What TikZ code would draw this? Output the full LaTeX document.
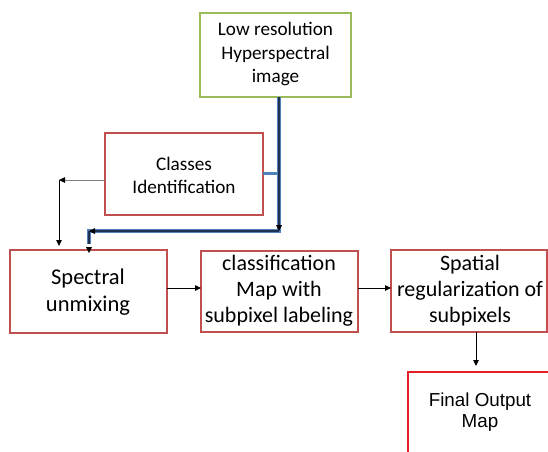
\documentclass[tikz,border=0pt]{standalone}
\usepackage{fontspec}
\setmainfont{Carlito}
\newfontfamily\arialfont{Liberation Sans}
\usetikzlibrary{arrows.meta,calc}
\definecolor{boxred}{HTML}{C0504D}
\definecolor{brightred}{HTML}{E31E24}
\definecolor{boxgreen}{HTML}{9BBB59}
\definecolor{linkblue}{HTML}{4F81BD}
\definecolor{linknavy}{HTML}{1F3050}
\definecolor{linkgray}{HTML}{7F7F7F}
\tikzset{
  redbox/.style={draw=boxred, line width=2.4pt, fill=white},
  greenbox/.style={draw=boxgreen, line width=2.4pt, fill=white},
  finalbox/.style={draw=brightred, line width=2.4pt, fill=white},
  lbl/.style={align=center, inner sep=0pt},
  tip/.style={-{Triangle[length=6pt,width=5.5pt]}},
  flow/.style={tip, line width=0.8pt, black},
  bluelink/.style={line width=4pt, linkblue},
  navylink/.style={line width=1.8pt, linknavy},
}
\begin{document}
\begin{tikzpicture}[x=1pt,y=-1pt]
\useasboundingbox (0,0) rectangle (548,451);
\clip (0,0) rectangle (548,451);

% boxes
\draw[greenbox] (200,13) rectangle (351,97);
\node[lbl, font=\fontsize{19.2}{23.5}\selectfont] (lowres) at (275.5,54) {Low resolution\\Hyperspectral\\image};
\coordinate (lowresB) at (279,97);

\draw[redbox] (105,133) rectangle (263,215);
\node[lbl, font=\fontsize{19.2}{23}\selectfont] (classes) at (184,175) {Classes\\Identification};
\coordinate (classesR) at (263,173);
\coordinate (classesL) at (105,180);

\draw[redbox] (10,250) rectangle (167,333);
\node[lbl, font=\fontsize{22.5}{27}\selectfont] (unmix) at (88,292) {Spectral\\unmixing};
\coordinate (unmixT) at (89,250);
\coordinate (unmixTL) at (59,250);
\coordinate (unmixR) at (167,288);

\draw[redbox] (201,251) rectangle (358,332);
\node[lbl, font=\fontsize{22}{26}\selectfont] (classmap) at (279,291) {classification\\Map with\\subpixel labeling};
\coordinate (classmapL) at (201,288);
\coordinate (classmapR) at (358,288);

\draw[redbox] (391,250) rectangle (547,332);
\node[lbl, font=\fontsize{22}{26}\selectfont] (spatial) at (470,291) {Spatial\\regularization of\\subpixels};
\coordinate (spatialL) at (391,288);
\coordinate (spatialB) at (476,332);

\draw[finalbox] (408,372) rectangle (600,500);
\node[lbl, font=\arialfont\fontsize{18.8}{21.5}\selectfont] (final) at (480,412) {Final Output\\Map};
\coordinate (finalT) at (476,372);

% thick blue feed from the hyperspectral image
\coordinate (bend) at (279,231);
\coordinate (corner) at (89,231);
\draw[line width=3pt, linkblue] (classesR) -- (279,173);
\draw[bluelink] (lowresB) -- (bend) -- (corner) -- ($(unmixT)+(0,-6)$);
\draw[navylink] (lowresB) -- ($(bend)+(0,-5)$);
\draw[navylink] (bend) -- ($(corner)+(6,0)$);
\draw[navylink] (corner) -- ($(unmixT)+(0,-6)$);
\fill[black] (bend) -- ++(-3,-6) -- ++(6,0) -- cycle;
\fill[black] (corner) -- ++(6,-3) -- ++(0,6) -- cycle;
\fill[black] (unmixT) ++(0,3) -- ++(-3,-6) -- ++(6,0) -- cycle;

% thin connectors
\coordinate (leftcorner) at (59,180);
\draw[-{Triangle[length=6pt,width=5.5pt,color=black,fill=black]}, line width=0.9pt, linkgray] (classesL) -- (leftcorner);
\draw[flow] (leftcorner) -- ($(unmixTL)+(0,-4)$);
\draw[flow] (unmixR) -- (classmapL);
\draw[flow] (classmapR) -- (spatialL);
\draw[flow] (spatialB) -- ($(finalT)+(0,-6)$);
\end{tikzpicture}
\end{document}
